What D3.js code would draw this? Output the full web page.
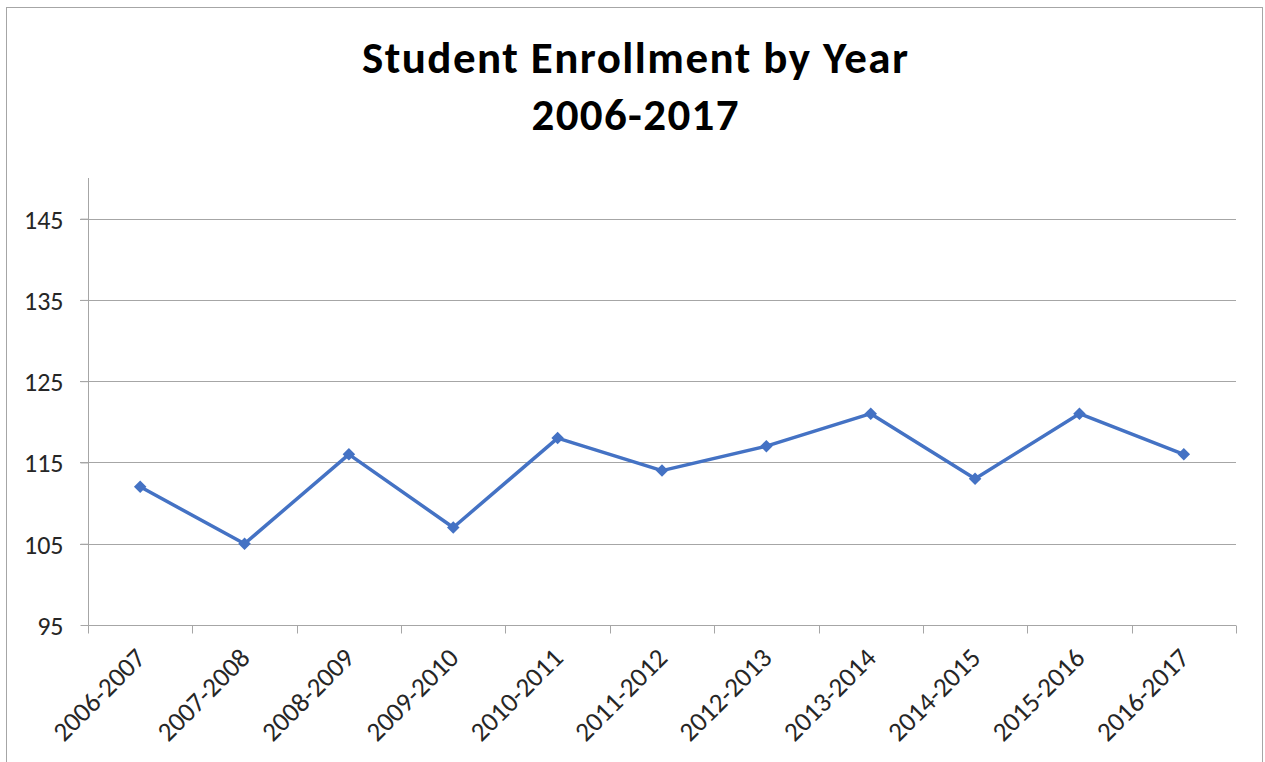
<!DOCTYPE html>
<html><head><meta charset="utf-8">
<script src="https://cdn.jsdelivr.net/npm/d3@7"></script>
<style>body{margin:0;background:#fff;} svg{display:block;}</style>
</head><body>
<svg id="c" width="1265" height="762"></svg>
<script>
const categories = ["2006-2007","2007-2008","2008-2009","2009-2010","2010-2011","2011-2012","2012-2013","2013-2014","2014-2015","2015-2016","2016-2017"];
const enrollment = [112,105,116,107,118,114,117,121,113,121,116];
const yTicks = [95,105,115,125,135,145];
const titleLines = ["Student Enrollment by Year","2006-2017"];

const svg = d3.select("#c");
const font = "'Liberation Sans Narrow', Carlito, Calibri, Lato, sans-serif";
const tfont = "Carlito, Calibri, Lato, 'Open Sans', sans-serif";
svg.append("rect").attr("x",6.5).attr("y",7.5).attr("width",1256).attr("height",770)
  .attr("fill","#fff").attr("stroke","#a6a6a6").attr("stroke-width",1);

const L=88, R=1236, T=178, B=625;
const x = d3.scaleBand().domain(categories).range([L,R]);
const y = d3.scaleLinear().domain([95,150]).range([B,T]);

// gridlines
svg.append("g").selectAll("line").data(yTicks.slice(1)).join("line")
  .attr("x1",80).attr("x2",R).attr("y1",d=>Math.round(y(d))+0.5).attr("y2",d=>Math.round(y(d))+0.5)
  .attr("stroke","#a6a6a6").attr("stroke-width",1);

// y axis
const ya = svg.append("g").attr("transform",`translate(${L+0.5},0)`)
  .call(d3.axisLeft(y).tickValues(yTicks).tickSize(8).tickPadding(17));
ya.select(".domain").attr("d",`M0,${T}V${B}`).attr("stroke","#a6a6a6");
ya.selectAll(".tick line").attr("stroke","#a6a6a6");
ya.selectAll(".tick text").attr("font-family",font).attr("font-size",26).attr("fill","#262626").attr("dy","0.36em");

// x axis
const xa = svg.append("g").attr("transform",`translate(0,${Math.round(B)+0.5})`);
xa.append("line").attr("x1",L).attr("x2",R).attr("stroke","#a6a6a6");
const bounds = categories.map(c=>x(c)).concat([R]);
xa.selectAll("line.tk").data(bounds).join("line").attr("class","tk")
  .attr("x1",d=>Math.round(d)+0.5).attr("x2",d=>Math.round(d)+0.5).attr("y1",0).attr("y2",8).attr("stroke","#a6a6a6");
xa.selectAll("text").data(categories).join("text")
  .attr("transform",d=>`translate(${x(d)+x.bandwidth()/2+7},${34}) rotate(-45)`)
  .attr("text-anchor","end").attr("font-family",font).attr("font-size",27).attr("fill","#262626")
  .text(d=>d);

// line
const cx = d=>x(d)+x.bandwidth()/2;
svg.append("path").datum(enrollment)
  .attr("d",d3.line().x((d,i)=>cx(categories[i])).y(d=>y(d)))
  .attr("fill","none").attr("stroke","#4472C4").attr("stroke-width",3.5).attr("stroke-linejoin","round");
svg.append("g").selectAll("path").data(enrollment).join("path")
  .attr("transform",(d,i)=>`translate(${cx(categories[i])},${y(d)})`)
  .attr("d",d3.symbol().type(d3.symbolDiamond2).size(100))
  .attr("fill","#4472C4");

// title
const tw = [546, 207];
svg.append("g").selectAll("text").data(titleLines).join("text")
  .attr("x",635).attr("y",(d,i)=>73+i*57).attr("text-anchor","middle").attr("font-family",tfont)
  .attr("font-weight","bold").attr("font-size",45).attr("fill","#000")
  .attr("textLength",(d,i)=>tw[i]).attr("lengthAdjust","spacing")
  .text(d=>d);
</script>
</body></html>
